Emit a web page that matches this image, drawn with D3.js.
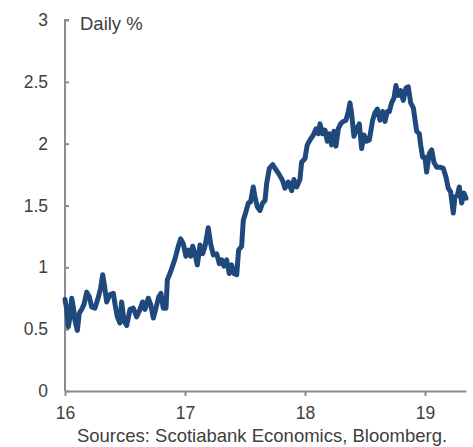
<!DOCTYPE html>
<html>
<head>
<meta charset="utf-8">
<script src="https://cdn.jsdelivr.net/npm/d3@7"></script>
<style>
  body { margin: 0; background: #fff; }
  svg { display: block; font-family: "Liberation Sans", Arial, sans-serif; }
</style>
</head>
<body>
<svg id="chart" width="473" height="447"></svg>
<script>
// decimal years (16 = Jan 2016), daily % values
var years = [
  16.000, 16.014, 16.028, 16.042, 16.056, 16.069, 16.083, 16.103, 16.119, 16.139,
  16.158, 16.181, 16.203, 16.222, 16.250, 16.278, 16.297, 16.314, 16.328, 16.347,
  16.375, 16.403, 16.417, 16.436, 16.458, 16.472, 16.492, 16.514, 16.542, 16.569,
  16.597, 16.625, 16.647, 16.667, 16.694, 16.714, 16.736, 16.758, 16.781, 16.800,
  16.819, 16.842, 16.853, 16.875, 16.903, 16.917, 16.944, 16.964, 16.986, 17.008,
  17.028, 17.047, 17.064, 17.083, 17.103, 17.125, 17.147, 17.167, 17.194, 17.214,
  17.236, 17.264, 17.286, 17.306, 17.325, 17.347, 17.369, 17.389, 17.408, 17.431,
  17.447, 17.472, 17.486, 17.508, 17.528, 17.547, 17.569, 17.583, 17.603, 17.625,
  17.647, 17.667, 17.681, 17.703, 17.731, 17.758, 17.786, 17.814, 17.833, 17.861,
  17.889, 17.908, 17.931, 17.958, 17.972, 18.000, 18.019, 18.042, 18.069, 18.092,
  18.111, 18.125, 18.147, 18.167, 18.186, 18.203, 18.222, 18.242, 18.258, 18.278,
  18.297, 18.319, 18.342, 18.361, 18.375, 18.389, 18.408, 18.431, 18.453, 18.472,
  18.492, 18.514, 18.536, 18.564, 18.583, 18.603, 18.625, 18.647, 18.667, 18.686,
  18.703, 18.722, 18.742, 18.758, 18.778, 18.797, 18.819, 18.842, 18.861, 18.881,
  18.903, 18.931, 18.953, 18.964, 18.981, 19.000, 19.014, 19.036, 19.056, 19.075,
  19.097, 19.125, 19.153, 19.175, 19.194, 19.214, 19.236, 19.250, 19.269, 19.286,
  19.306, 19.325, 19.342
];
var values = [
  0.74, 0.66, 0.52, 0.60, 0.75, 0.68, 0.57, 0.49, 0.63, 0.66,
  0.70, 0.80, 0.76, 0.68, 0.67, 0.76, 0.83, 0.94, 0.86, 0.72,
  0.78, 0.79, 0.70, 0.60, 0.55, 0.72, 0.57, 0.53, 0.66, 0.67,
  0.60, 0.66, 0.72, 0.66, 0.75, 0.70, 0.59, 0.67, 0.76, 0.79,
  0.67, 0.67, 0.90, 0.95, 1.03, 1.07, 1.17, 1.23, 1.19, 1.09,
  1.14, 1.09, 1.17, 1.11, 1.02, 1.18, 1.11, 1.17, 1.32, 1.19,
  1.10, 1.11, 1.03, 1.06, 1.01, 1.06, 0.95, 1.02, 0.95, 0.94,
  1.14, 1.17, 1.38, 1.45, 1.52, 1.53, 1.65, 1.57, 1.49, 1.46,
  1.52, 1.54, 1.68, 1.80, 1.83, 1.79, 1.75, 1.70, 1.64, 1.69,
  1.62, 1.71, 1.65, 1.71, 1.85, 1.88, 1.99, 2.03, 2.07, 2.12,
  2.08, 2.16, 2.08, 2.11, 2.02, 2.08, 1.99, 2.10, 1.98, 2.12,
  2.16, 2.18, 2.19, 2.26, 2.33, 2.24, 2.06, 2.12, 2.16, 1.96,
  2.07, 2.02, 2.03, 2.19, 2.25, 2.28, 2.19, 2.26, 2.18, 2.26,
  2.26, 2.33, 2.37, 2.47, 2.39, 2.43, 2.35, 2.45, 2.46, 2.33,
  2.29, 2.10, 2.08, 1.99, 1.89, 1.89, 1.77, 1.92, 1.95, 1.85,
  1.81, 1.81, 1.80, 1.73, 1.64, 1.61, 1.44, 1.57, 1.58, 1.65,
  1.52, 1.60, 1.56
];
var xTicks = [16, 17, 18, 19];
var yTicks = [0, 0.5, 1, 1.5, 2, 2.5, 3];
var unitLabel = "Daily %";
var sourceNote = "Sources: Scotiabank Economics, Bloomberg.";

var margin = {top: 20, right: 7, bottom: 56, left: 65};
var svg = d3.select('#chart');
var width = +svg.attr('width') - margin.left - margin.right;
var height = +svg.attr('height') - margin.top - margin.bottom;
var axisColor = '#8c8c8c';
var textColor = '#404040';

var x = d3.scaleLinear().domain([16, 19.342]).range([0, width]);
var y = d3.scaleLinear().domain([0, 3]).range([height, 0]);

var g = svg.append('g').attr('transform', `translate(${margin.left},${margin.top})`);

// y axis, ticks point into the plot
var yAxis = g.append('g')
  .attr('font-family', null)
  .call(d3.axisRight(y).tickValues(yTicks).tickSize(4));
yAxis.selectAll('text').remove();
yAxis.selectAll('line,path').attr('stroke', axisColor).attr('stroke-width', 2);
yAxis.select('path').attr('d', `M4,0H0V${height}`);

g.selectAll('.ylab')
  .data(yTicks)
  .enter()
  .append('text')
  .attr('class', 'ylab')
  .attr('x', -17)
  .attr('y', (d) => y(d))
  .attr('dy', '0.35em')
  .attr('text-anchor', 'end')
  .attr('font-size', 17.5)
  .attr('fill', textColor)
  .text((d) => d);

// x axis, ticks point down
var xAxis = g.append('g')
  .attr('transform', `translate(0,${height})`)
  .call(d3.axisBottom(x).tickValues(xTicks).tickSize(5).tickSizeOuter(0).tickPadding(11).tickFormat(d3.format('d')));
xAxis.attr('font-family', null);
xAxis.selectAll('line,path').attr('stroke', axisColor).attr('stroke-width', 2);
xAxis.selectAll('text').attr('font-size', 17.5).attr('fill', textColor);

g.append('text')
  .attr('x', 15)
  .attr('y', 10)
  .attr('font-size', 18.5)
  .attr('fill', textColor)
  .text(unitLabel);

var line = d3.line()
  .x((d, i) => x(years[i]))
  .y((d) => y(d));

g.append('path')
  .datum(values)
  .attr('d', line)
  .attr('fill', 'none')
  .attr('stroke', '#1f497d')
  .attr('stroke-width', 5)
  .attr('stroke-linejoin', 'round')
  .attr('stroke-linecap', 'round');

svg.append('text')
  .attr('x', 262)
  .attr('y', 442)
  .attr('text-anchor', 'middle')
  .attr('font-size', 18.5)
  .attr('fill', textColor)
  .text(sourceNote);
</script>
</body>
</html>
